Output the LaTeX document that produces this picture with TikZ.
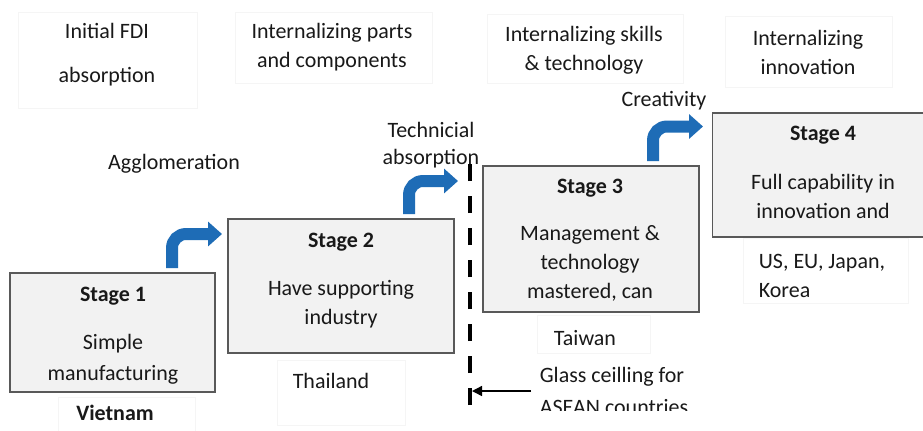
\documentclass[tikz,border=0pt]{standalone}
\usepackage{fontspec}
\setmainfont{Carlito}
\usepackage{tikz}
\usetikzlibrary{arrows.meta, positioning}

\definecolor{arrowblue}{RGB}{30,108,182}

\begin{document}
\begin{tikzpicture}[
    x=0.02cm, y=-0.02cm,
    every node/.style={font=\fontsize{12.5}{16.5}\selectfont, text=black!90, inner sep=2pt, align=center},
    stitle/.style={font=\fontsize{12.5}{16.5}\selectfont\bfseries},
    stagebox/.style={rectangle, draw=black!65, fill=black!5, line width=1.1pt},
    faintbox/.style={draw=black!4, line width=0.4pt},
    bluearrow/.style={draw=arrowblue, line width=0.24cm, rounded corners=0.28cm,
      -{Triangle[width=0.48cm, length=0.28cm]}},
    >=Stealth
  ]
  \path[use as bounding box, fill=white] (0,0) rectangle (923,430);

  % Faint frames round the free labels
  \foreach \xa/\ya/\xb/\yb in {18/12/197/108, 235/12/432/83, 487/14/683/83, 725/16/892/87,
      58/397/195/432, 277/360/405/425, 537/315/650/353, 743/238/908/303}
    \draw[faintbox] (\xa,\ya) rectangle (\xb,\yb);

  % Stage boxes, one step higher each time
  \node[stagebox, minimum width=4.1cm, minimum height=2.38cm] (st1) at (112.5,332.5) {};
  \node[stagebox, minimum width=4.52cm, minimum height=2.68cm] (st2) at (341,286) {};
  \node[stagebox, minimum width=4.32cm, minimum height=2.92cm] (st3) at (591,239) {};
  \node[stagebox, minimum width=4.36cm, minimum height=2.48cm] (st4) at (821.5,175) {};

  \node[stitle] (t1) at (113,296) {Stage 1};
  \node (d1) at (113,359) {Simple\\[1pt]manufacturing};
  \node[stitle] (t2) at (341,242) {Stage 2};
  \node (d2) at (341,304.5) {Have supporting\\industry};
  \node[stitle] (t3) at (590,188) {Stage 3};
  \node (d3) at (590,263.5) {Management \&\\technology\\mastered, can};
  \node[stitle] (t4) at (823,135) {Stage 4};
  \node (d4) at (823,196.5) {Full capability in\\innovation and};

  % Headings along the top
  \node (h1) at (107,55) {Initial FDI\\[8.5pt]absorption};
  \node (h2) at (332,47.5) {Internalizing parts\\and components};
  \node (h3) at (584,50.5) {Internalizing skills\\\& technology};
  \node (h4) at (808,52.5) {Internalizing\\innovation};

  % Drivers between the stages
  \node (g1) at (174,164) {Agglomeration};
  \node (g2) at (431,145) {Technicial\\[-1.5pt]absorption};
  \node (g3) at (664,101) {Creativity};

  \coordinate (a1s) at (172,268);
  \coordinate (a1e) at (222,234);
  \coordinate (a2s) at (409,214);
  \coordinate (a2e) at (458,181);
  \coordinate (a3s) at (653,161);
  \coordinate (a3e) at (703,126.5);
  \draw[bluearrow] (a1s) |- (a1e);
  \draw[bluearrow] (a2s) |- (a2e);
  \draw[bluearrow] (a3s) |- (a3e);

  % Countries under the stages
  \node[stitle] (c1) at (115,413) {Vietnam};
  \node (c2) at (331,381) {Thailand};
  \node (c3) at (585,338) {Taiwan};
  \node[anchor=west, align=left] (c4) at (755,276) {US, EU, Japan,\\[-0.5pt]Korea};

  % Glass ceiling
  \coordinate (gbot) at (470,405);
  \coordinate (gtop) at (470,150);
  \draw[line width=0.08cm, dash pattern=on 0.34cm off 0.3cm] (gbot) -- (gtop);
  \begin{scope}
    \clip (0,0) rectangle (923,410);
    \node[anchor=west, align=left] (glass) at (536,391) {Glass ceilling for\\[1.5pt]ASEAN countries};
  \end{scope}
  \draw[-{Triangle[width=0.2cm, length=0.2cm]}, line width=0.8pt, shorten <=0.1cm, shorten >=0.04cm]
    (glass.west) -- (glass.west -| gtop);
\end{tikzpicture}
\end{document}
